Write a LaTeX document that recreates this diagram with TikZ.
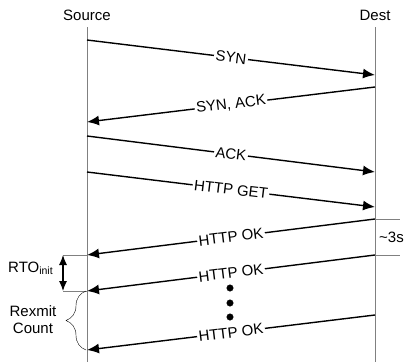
\documentclass[tikz,border=0pt]{standalone}
\usepackage{fontspec}
\setmainfont{Liberation Sans}
\usetikzlibrary{arrows.meta,decorations.pathreplacing}
\begin{document}
\begin{tikzpicture}[x=1pt,y=-1pt]
\tikzstyle{life}=[draw=gray,line width=0.9pt]
\tikzstyle{msg}=[line width=1.4pt,-{Latex[length=12pt,width=10pt]}]
\tikzstyle{lbl}=[font=\fontsize{15}{17}\selectfont]
\tikzstyle{tag}=[lbl,fill=white,sloped,inner sep=1.5pt,midway]
\tikzstyle{dot}=[draw,shape=circle,fill,inner sep=0pt,minimum size=6.5pt]
\useasboundingbox (0,0) rectangle (405,362);
\path (87,15) node[lbl](src){Source} (375,15) node[lbl](dst){Dest};
\path (87,27) coordinate(s0) (87,362) coordinate(s9) (375,27) coordinate(d0) (375,362) coordinate(d9);
\draw[life] (s0) -- (s9);
\draw[life] (d0) -- (d9);
\path (87,40) coordinate(s1) (375,75) coordinate(d1) (375,87) coordinate(d2) (87,122) coordinate(s2);
\path (87,136) coordinate(s3) (375,172) coordinate(d3) (87,172) coordinate(s4) (375,207) coordinate(d4);
\path (375,219) coordinate(d5) (87,255) coordinate(s5) (375,255) coordinate(d6) (87,291) coordinate(s6);
\path (375,315) coordinate(d7) (87,350) coordinate(s7);
\draw[msg] (s1) -- node[tag]{SYN} (d1);
\draw[msg] (d2) -- node[tag]{SYN, ACK} (s2);
\draw[msg] (s3) -- node[tag]{ACK} (d3);
\draw[msg] (s4) -- node[tag]{HTTP GET} (d4);
\draw[msg] (d5) -- node[tag]{HTTP OK} (s5);
\draw[msg] (d6) -- node[tag]{HTTP OK} (s6);
\draw[msg] (d7) -- node[tag]{HTTP OK} (s7);
\path (230,288) node[dot](k1){} (230,303) node[dot](k2){} (230,317) node[dot](k3){};

\path (400,219) coordinate(t1) (400,255) coordinate(t2);
\draw[life] (d5) -- (t1);
\draw[life] (d6) -- (t2);
\path (379,237) node[lbl,anchor=west,inner sep=0pt](wait){\textasciitilde3s};

\path (63,255) coordinate(r1) (63,291) coordinate(r2);
\draw[life] (r1) -- (s5);
\draw[life] (r2) -- (s6);
\draw[line width=1.1pt,{Latex[length=10pt,width=8pt]}-{Latex[length=10pt,width=8pt]}] (r1) -- (r2);
\path (8,272) node[lbl,anchor=base west,inner sep=0pt](rto){RTO\textsubscript{init}};
\draw[decorate,decoration={brace,amplitude=20pt}] (86,350) -- (86,291);
\path (33,320) node[lbl,align=center,inner sep=0pt](rex){Rexmit\\Count};
\end{tikzpicture}
\end{document}
